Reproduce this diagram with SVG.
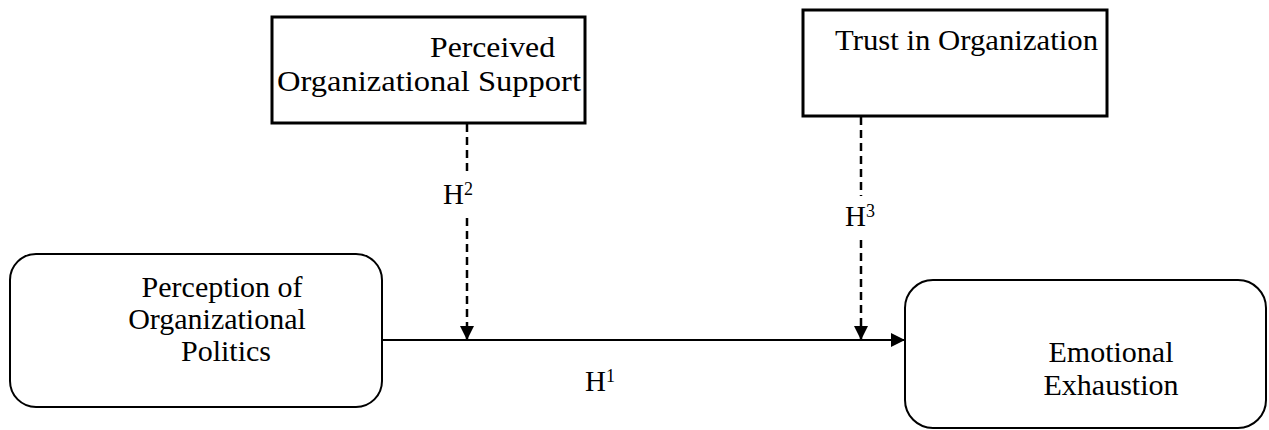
<svg xmlns="http://www.w3.org/2000/svg" width="1269" height="430" viewBox="0 0 1269 430">
<style>
.t{font-family:"Liberation Serif","Times New Roman",serif;font-size:30px;fill:#000}
.h{font-family:"Liberation Serif","Times New Roman",serif;font-size:29px;fill:#000}
.s{font-size:18px}
.sq{fill:#fff;stroke:#000;stroke-width:3}
.rd{fill:#fff;stroke:#000;stroke-width:2}
.ln{stroke:#000;stroke-width:2;fill:none}
.ds{stroke:#000;stroke-width:2.5;fill:none;stroke-dasharray:8 5}
</style>
<defs>
<marker id="ah" viewBox="0 0 14 14" refX="14" refY="7" markerWidth="14" markerHeight="14" markerUnits="userSpaceOnUse" orient="auto">
<path d="M0,0 L14,7 L0,14 Z" fill="#000"/>
</marker>
</defs>
<rect width="1269" height="430" fill="#fff"/>
<g id="pos">
<rect class="sq" x="272" y="17" width="313" height="106"/>
<text class="t" x="430" y="57" textLength="125" lengthAdjust="spacingAndGlyphs">Perceived</text>
<text class="t" x="277" y="91" textLength="304" lengthAdjust="spacingAndGlyphs">Organizational Support</text>
</g>
<g id="trust">
<rect class="sq" x="803" y="10" width="304" height="106"/>
<text class="t" x="835" y="50" textLength="263" lengthAdjust="spacingAndGlyphs">Trust in Organization</text>
</g>
<g id="pop">
<rect class="rd" x="10" y="254" width="372" height="153" rx="26"/>
<text class="t" x="222" y="297" text-anchor="middle">Perception of</text>
<text class="t" x="217" y="329" text-anchor="middle">Organizational</text>
<text class="t" x="226" y="361" text-anchor="middle">Politics</text>
</g>
<g id="ee">
<rect class="rd" x="905" y="280" width="361" height="148" rx="28"/>
<text class="t" x="1111" y="362" text-anchor="middle">Emotional</text>
<text class="t" x="1111" y="395" text-anchor="middle">Exhaustion</text>
</g>
<g id="connectors">
<line class="ln" x1="382" y1="340" x2="905" y2="340" marker-end="url(#ah)"/>
<line class="ds" x1="467" y1="124" x2="467" y2="172"/>
<line class="ds" x1="467" y1="218" x2="467" y2="340" marker-end="url(#ah)"/>
<line class="ds" x1="861" y1="117" x2="861" y2="196"/>
<line class="ds" x1="861" y1="240" x2="861" y2="340" marker-end="url(#ah)"/>
</g>
<g id="labels">
<text class="h" x="443" y="204">H<tspan class="s" dy="-9">2</tspan></text>
<text class="h" x="845" y="226">H<tspan class="s" dy="-9">3</tspan></text>
<text class="h" x="585" y="391">H<tspan class="s" dy="-9">1</tspan></text>
</g>
</svg>
